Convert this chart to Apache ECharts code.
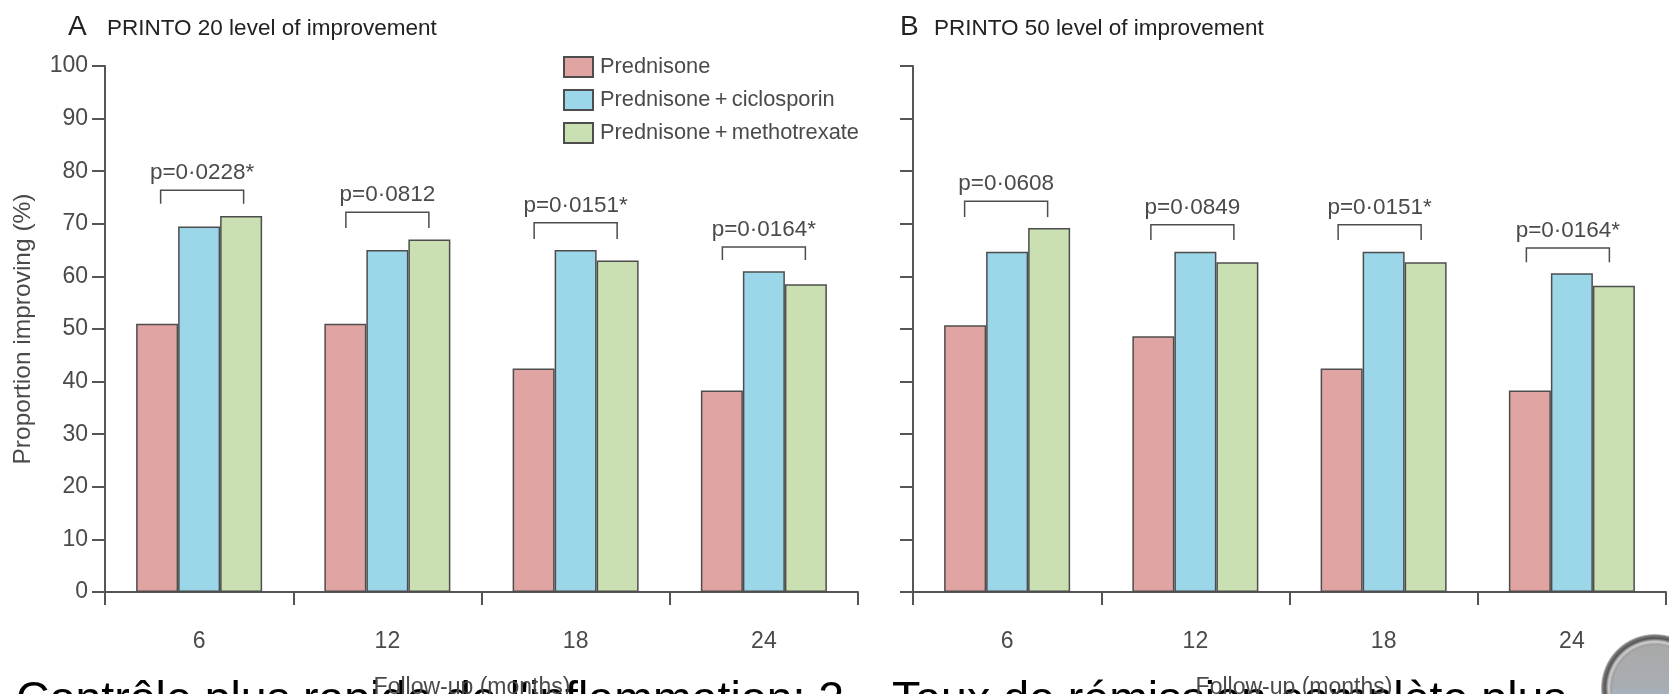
<!DOCTYPE html>
<html><head><meta charset="utf-8">
<style>html,body{margin:0;padding:0;background:#fff;overflow:hidden}#c{width:1669px;height:694px}</style>
<script src="https://cdn.jsdelivr.net/npm/echarts@6/dist/echarts.min.js"></script>
</head><body><div id="c"></div>
<script>
const months = ['6','12','18','24'];
const yTicks = [0,10,20,30,40,50,60,70,80,90,100];
const seriesNames = ['Prednisone','Prednisone\u2009+\u2009ciclosporin','Prednisone\u2009+\u2009methotrexate'];
const colors = ['#e0a5a2','#9bd6e9','#cae0b3'];
const a_pred = [51,51,42.5,38.3];
const a_cic = [69.5,65,65,61];
const a_mtx = [71.5,67,63,58.5];
const b_pred = [50.7,48.6,42.5,38.3];
const b_cic = [64.7,64.7,64.7,60.6];
const b_mtx = [69.2,62.7,62.7,58.2];
const a_pLabels = ['p=0·0228*','p=0·0812','p=0·0151*','p=0·0164*'];
const b_pLabels = ['p=0·0608','p=0·0849','p=0·0151*','p=0·0164*'];
const a_bracketTop = [76.4,72.2,70.2,65.6];
const a_bracketEnd = [73.8,69.2,67.1,63.1];
const b_bracketTop = [74.3,69.8,69.8,65.4];
const b_bracketEnd = [71.3,66.9,66.9,62.7];

const FONT = '"Liberation Sans",sans-serif';
const INK = '#4a4a4a';
const chart = echarts.init(document.getElementById('c'),null,{renderer:'canvas'});

function bars(name,data,i,ax){
  return {name,type:'bar',xAxisIndex:ax,yAxisIndex:ax,data,barWidth:42,barGap:0,
    itemStyle:{color:colors[i],borderColor:'#4d4d4d',borderWidth:1.5},animation:false,silent:true};
}
function brackets(ax,tops,ends,labels,nudge){
  return {type:'custom',xAxisIndex:ax,yAxisIndex:ax,animation:false,silent:true,z:5,
    data:months.map((m,i)=>[i,tops[i],ends[i]]),
    encode:{x:0,y:1},
    renderItem(params,api){
      const cx=api.coord([api.value(0),0])[0]+nudge[params.dataIndex];
      const yt=api.coord([0,api.value(1)])[1];
      const ye=api.coord([0,api.value(2)])[1];
      const hw=41.5;
      return {type:'group',children:[
        {type:'polyline',shape:{points:[[cx-hw,ye],[cx-hw,yt],[cx+hw,yt],[cx+hw,ye]]},
          style:{fill:null,stroke:'#4d4d4d',lineWidth:1.5}},
        {type:'text',style:{x:cx,y:yt-17,text:labels[params.dataIndex],fill:INK,
          font:'22.5px '+FONT,textAlign:'center',textVerticalAlign:'middle'}}
      ]};
    }};
}
const axisLine={show:true,lineStyle:{color:'#555',width:2}};
const tick={show:true,length:13,lineStyle:{color:'#555',width:2}};
const big='46.5px "Liberation Sans",Arial,sans-serif';
chart.setOption({
  backgroundColor:'#fff',animation:false,
  title:[
    {text:'A',left:63,top:8,textStyle:{fontFamily:FONT,fontSize:28,fontWeight:'normal',color:'#222'}},
    {text:'PRINTO 20 level of improvement',left:102,top:12,textStyle:{fontFamily:FONT,fontSize:22.5,fontWeight:'normal',color:'#222'}},
    {text:'B',left:895,top:8,textStyle:{fontFamily:FONT,fontSize:28,fontWeight:'normal',color:'#222'}},
    {text:'PRINTO 50 level of improvement',left:929,top:12,textStyle:{fontFamily:FONT,fontSize:22.5,fontWeight:'normal',color:'#222'}}
  ],
  legend:{data:seriesNames,orient:'vertical',left:563,top:56,itemWidth:29,itemHeight:20,itemGap:11,
    icon:'rect',selectedMode:false,textStyle:{fontFamily:FONT,fontSize:21.8,color:INK,padding:[0,0,0,2]},padding:0},
  grid:[
    {left:105,right:1669-858,top:66,height:526,outerBoundsMode:'none'},
    {left:913,right:3,top:66,height:526,outerBoundsMode:'none'}
  ],
  xAxis:[0,1].map(i=>({gridIndex:i,type:'category',data:months,axisLine:{...axisLine,onZero:false},
    axisTick:{...tick,alignWithLabel:false},
    axisLabel:{fontFamily:FONT,fontSize:23,color:INK,margin:38},
    name:'Follow-up (months)',nameLocation:'middle',nameGap:84,
    nameTextStyle:{fontFamily:FONT,fontSize:23,color:INK,padding:i?[0,0,0,9]:[0,19,0,0]}})),
  yAxis:[
    {gridIndex:0,type:'value',min:0,max:100,interval:10,axisLine,axisTick:tick,splitLine:{show:false},
     axisLabel:{fontFamily:FONT,fontSize:23,color:INK,margin:17,customValues:yTicks},
     name:'Proportion improving (%)',nameLocation:'middle',nameGap:69,nameRotate:90,
     nameTextStyle:{fontFamily:FONT,fontSize:24.5,color:INK}},
    {gridIndex:1,type:'value',min:0,max:100,interval:10,axisLine,axisTick:tick,splitLine:{show:false},axisLabel:{show:false}}
  ],
  series:[
    bars(seriesNames[0],a_pred,0,0),bars(seriesNames[1],a_cic,1,0),bars(seriesNames[2],a_mtx,2,0),
    bars(seriesNames[0],b_pred,0,1),bars(seriesNames[1],b_cic,1,1),bars(seriesNames[2],b_mtx,2,1),
    brackets(0,a_bracketTop,a_bracketEnd,a_pLabels,[3,0,0,0]),
    brackets(1,b_bracketTop,b_bracketEnd,b_pLabels,[-1,-3,-4,-4])
  ],
  graphic:[
    {type:'text',left:16,top:678,z:-1,silent:true,style:{text:"Contrôle plus rapide de l'inflammation: 2",fill:'#000',font:big}},
    {type:'text',left:892,top:678,z:-1,silent:true,style:{text:'Taux de rémission complète plus',fill:'#000',font:big}},
    {type:'circle',shape:{cx:1655,cy:688,r:54},z:20,silent:true,style:{fill:{type:'radial',x:0.5,y:0.5,r:0.5,colorStops:[
      {offset:0.8,color:'#9a9a9a'},{offset:0.86,color:'#d0d0d0'},{offset:0.92,color:'#555'},{offset:0.97,color:'#777'},{offset:1,color:'#ccc'}]}}},
    {type:'circle',shape:{cx:1655,cy:688,r:43},z:21,silent:true,style:{fill:{type:'linear',x:0,y:0,x2:0,y2:1,colorStops:[
      {offset:0,color:'#a9a9a9'},{offset:0.5,color:'#a8adb3'},{offset:0.7,color:'#9fc0de'},{offset:1,color:'#8fb0d0'}]}}}
  ]
});
</script></body></html>
